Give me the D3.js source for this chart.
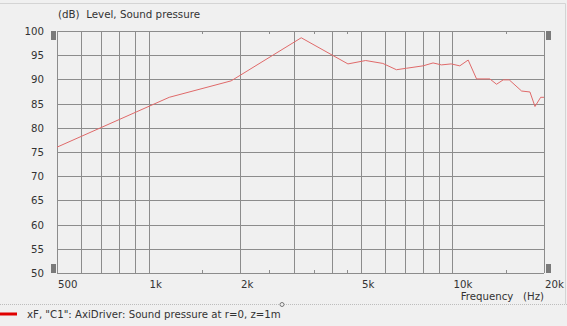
<!DOCTYPE html>
<head>
  <meta charset="utf-8">
  <title>Level, Sound pressure</title>
  <script src="https://d3js.org/d3.v7.min.js"></script>
  <style type="text/css">
    body { margin: 0; background: #f0f0f0; }
    svg { display: block; font-family: "DejaVu Sans", sans-serif; }
    .grid line { stroke: #8c8c8c; stroke-width: 1px; shape-rendering: crispEdges; }
    .tick-label { font-size: 10.2px; fill: #333; }
    .curve { fill: none; stroke: #e06a6a; stroke-width: 1px; }
  </style>
</head>
<body>
  <div id="graph-container"></div>
<script>
// =================== Data ======================
  // frequency (Hz) and level (dB)
  const freqs = [500, 1170, 1870, 3180, 4530, 5180, 5900, 6540, 7050, 8000, 8630, 9200,
                 9900, 10570, 11260, 12000, 13270, 13960, 14680, 15370, 16880, 17980,
                 18680, 19500, 20000];
  const levels = [76.0, 86.3, 89.7, 98.6, 93.2, 93.9, 93.3, 92.0, 92.3, 92.8, 93.4, 93.0,
                  93.2, 92.8, 94.0, 90.1, 90.1, 89.0, 89.9, 89.9, 87.6, 87.4,
                  84.4, 86.3, 86.3];

  const yTicks = [50, 55, 60, 65, 70, 75, 80, 85, 90, 95, 100];
  const xGrid = [600, 700, 800, 900, 1000, 2000, 3000, 4000, 5000, 6000, 7000, 8000, 9000, 10000];
  const xMinor = [1500, 2500, 3500, 4500, 15000];
  const xLabels = [[500, "500"], [1000, "1k"], [2000, "2k"], [5000, "5k"], [10000, "10k"], [20000, "20k"]];

// =================== Chart ======================
  let width = 567, height = 326,
      margin = { top: 31, right: 23, bottom: 53, left: 57 };

  let x = d3.scaleLog().domain([500, 20000]).range([margin.left, width - margin.right]);
  let y = d3.scaleLinear().domain([50, 100]).range([height - margin.bottom, margin.top]);

  var svg = d3.select("#graph-container").append("svg")
      .attr("width", width)
      .attr("height", height);

  // outer frame
  svg.append("line").attr("x1", 0).attr("x2", 565.5).attr("y1", 3.5).attr("y2", 3.5)
    .attr("stroke", "#d4d4d4");
  svg.append("line").attr("x1", 565.5).attr("x2", 565.5).attr("y1", 3.5).attr("y2", 304)
    .attr("stroke", "#d4d4d4");
  svg.append("line").attr("x1", 0).attr("x2", 567).attr("y1", 304.5).attr("y2", 304.5)
    .attr("stroke", "#bdbdbd").attr("stroke-dasharray", "1,1");
  svg.append("circle").attr("cx", 282).attr("cy", 304.5).attr("r", 2)
    .attr("fill", "#f0f0f0").attr("stroke", "#777");

  // grid
  var grid = svg.append("g").attr("class", "grid");
  grid.selectAll(".h").data(yTicks).enter().append("line")
    .attr("x1", margin.left).attr("x2", width - margin.right)
    .attr("y1", d => Math.round(y(d)) + 0.5).attr("y2", d => Math.round(y(d)) + 0.5);
  grid.selectAll(".v").data([500].concat(xGrid, [20000])).enter().append("line")
    .attr("x1", d => Math.round(x(d)) + 0.5).attr("x2", d => Math.round(x(d)) + 0.5)
    .attr("y1", margin.top).attr("y2", height - margin.bottom);
  // minor ticks at top and bottom
  grid.selectAll(".mt").data(xMinor).enter().append("line")
    .attr("x1", d => Math.round(x(d)) + 0.5).attr("x2", d => Math.round(x(d)) + 0.5)
    .attr("y1", margin.top).attr("y2", margin.top + 3).attr("stroke", "#aaa");
  grid.selectAll(".mb").data(xMinor).enter().append("line")
    .attr("x1", d => Math.round(x(d)) + 0.5).attr("x2", d => Math.round(x(d)) + 0.5)
    .attr("y1", height - margin.bottom - 3).attr("y2", height - margin.bottom).attr("stroke", "#aaa");

  // scroll handles
  [[51, margin.top], [51, height - margin.bottom - 9], [546, margin.top], [546, height - margin.bottom - 9]]
    .forEach(p => {
      svg.append("rect").attr("x", p[0]).attr("y", p[1]).attr("width", 5).attr("height", 9)
        .attr("fill", "#7a7a7a");
    });

  // y labels
  svg.selectAll(".ylab").data(yTicks).enter().append("text")
    .attr("class", "tick-label")
    .attr("x", 44).attr("y", d => y(d) + 4)
    .attr("text-anchor", "end")
    .text(d => d);

  // x labels, placed just right of their grid line
  svg.selectAll(".xlab").data(xLabels).enter().append("text")
    .attr("class", "tick-label")
    .attr("x", d => x(d[0]) + 1)
    .attr("y", 288)
    .text(d => d[1]);

  svg.append("text").attr("class", "tick-label")
    .attr("x", 544).attr("y", 300).attr("text-anchor", "end")
    .attr("xml:space", "preserve")
    .text("Frequency   (Hz)");

  svg.append("text").attr("class", "tick-label")
    .attr("x", 58).attr("y", 18)
    .style("font-size", "10.3px")
    .attr("xml:space", "preserve")
    .text("(dB)  Level, Sound pressure");

  // curve
  var line = d3.line().x(d => x(d[0])).y(d => y(d[1]));
  svg.append("path").attr("class", "curve")
    .attr("d", line(d3.zip(freqs, levels)));

  // legend
  svg.append("line").attr("x1", 0).attr("x2", 17).attr("y1", 314).attr("y2", 314)
    .attr("stroke", "#e00000").attr("stroke-width", 3);
  svg.append("text").attr("class", "tick-label")
    .attr("x", 27).attr("y", 318)
    .text("xF, \"C1\": AxiDriver: Sound pressure at r=0, z=1m");
</script>
